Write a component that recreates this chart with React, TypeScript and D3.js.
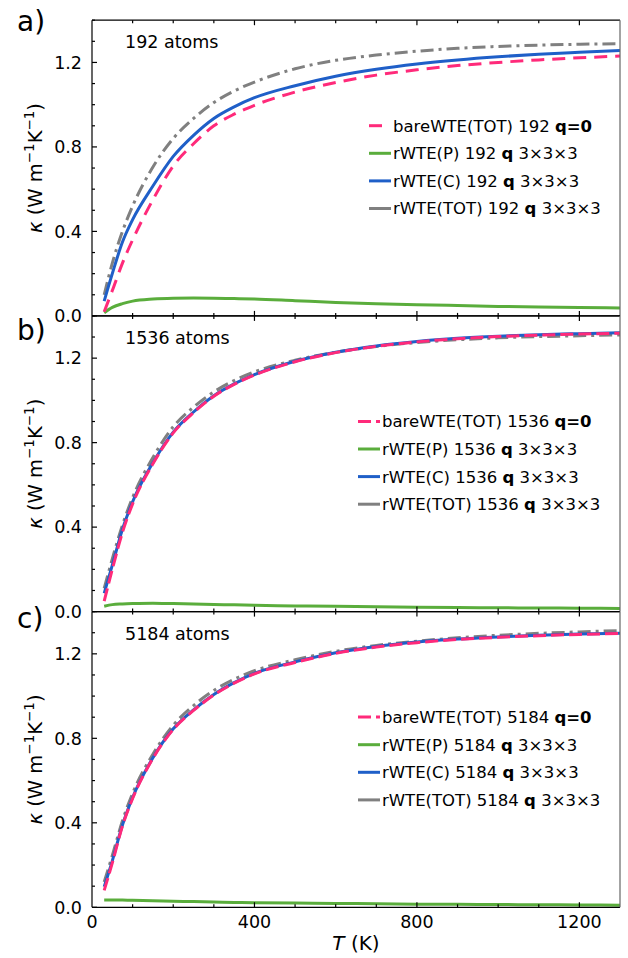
import React from "react";
import * as d3 from "d3";

// ---------- data ----------
const temps = [30, 50, 75, 100, 150, 200, 250, 300, 350, 400, 500, 600, 700, 800, 900, 1000, 1100, 1200, 1300];

// panel a (192 atoms)
const bareA = [0.02, 0.12, 0.25, 0.36, 0.55, 0.71, 0.815, 0.9, 0.955, 0.997, 1.06, 1.105, 1.14, 1.165, 1.185, 1.2, 1.212, 1.222, 1.23];
const pA = [0.015, 0.04, 0.058, 0.07, 0.08, 0.084, 0.085, 0.084, 0.082, 0.08, 0.072, 0.064, 0.058, 0.053, 0.049, 0.045, 0.042, 0.04, 0.037];
const cA = [0.07, 0.2, 0.35, 0.456, 0.615, 0.755, 0.855, 0.935, 0.99, 1.033, 1.09, 1.135, 1.168, 1.193, 1.212, 1.227, 1.239, 1.248, 1.256];
const totA = [0.1, 0.25, 0.4, 0.52, 0.705, 0.84, 0.935, 1.01, 1.065, 1.107, 1.17, 1.21, 1.235, 1.253, 1.267, 1.276, 1.282, 1.286, 1.289];

// panel b (1536 atoms)
const bareB = [0.05, 0.2, 0.375, 0.51, 0.7, 0.846, 0.942, 1.02, 1.076, 1.12, 1.183, 1.226, 1.256, 1.277, 1.292, 1.302, 1.309, 1.314, 1.318];
const pB = [0.025, 0.033, 0.036, 0.038, 0.04, 0.038, 0.036, 0.034, 0.032, 0.03, 0.027, 0.025, 0.023, 0.021, 0.019, 0.018, 0.017, 0.016, 0.015];
const cB = [0.087, 0.22, 0.39, 0.52, 0.705, 0.85, 0.945, 1.022, 1.078, 1.122, 1.185, 1.228, 1.258, 1.279, 1.294, 1.304, 1.311, 1.316, 1.32];
const totB = [0.11, 0.25, 0.41, 0.54, 0.73, 0.875, 0.968, 1.04, 1.094, 1.135, 1.19, 1.228, 1.255, 1.274, 1.287, 1.296, 1.302, 1.306, 1.31];

// panel c (5184 atoms)
const bareC = [0.08, 0.21, 0.385, 0.515, 0.705, 0.842, 0.932, 1.005, 1.061, 1.105, 1.159, 1.202, 1.232, 1.253, 1.268, 1.278, 1.286, 1.292, 1.296];
const pC = [0.035, 0.035, 0.034, 0.033, 0.031, 0.029, 0.027, 0.025, 0.023, 0.022, 0.02, 0.018, 0.017, 0.015, 0.014, 0.013, 0.012, 0.011, 0.01];
const cC = [0.097, 0.22, 0.39, 0.52, 0.708, 0.845, 0.935, 1.008, 1.064, 1.108, 1.162, 1.205, 1.235, 1.256, 1.27, 1.28, 1.288, 1.294, 1.298];
const totC = [0.12, 0.245, 0.41, 0.54, 0.725, 0.862, 0.955, 1.027, 1.08, 1.12, 1.172, 1.212, 1.24, 1.26, 1.276, 1.288, 1.297, 1.304, 1.31];

const atomCounts = ["192", "1536", "5184"];
const panelLetters = ["a)", "b)", "c)"];
const xTicks = [0, 400, 800, 1200];
const yTicks = [0, 0.4, 0.8, 1.2];

const seriesByPanel = [
  { bare: bareA, p: pA, c: cA, tot: totA },
  { bare: bareB, p: pB, c: cB, tot: totB },
  { bare: bareC, p: pC, c: cC, tot: totC },
];

// ---------- layout / style ----------
const W = 628;
const H = 958;
const LEFT = 92;
const RIGHT = 620;
const TOP0 = 20.2;
const PH = 295.7;
const FONT = "'DejaVu Sans', Verdana, sans-serif";
const PINK = "#ff2a7a";
const GREEN = "#5aad3c";
const BLUE = "#1f5fc8";
const GRAY = "#808080";
const LW = 3;
const legendTextX = [393, 382, 382];
const letterBaseline = [31, 340, 628];

const x = d3.scaleLinear().domain([0, 1300]).range([LEFT, RIGHT]);

function Panel({ idx }: { idx: number }) {
  const top = TOP0 + idx * PH;
  const bottom = top + PH;
  const y = d3.scaleLinear().domain([0, 1.4]).range([bottom, top]);
  const s = seriesByPanel[idx];
  const line = (vals: number[]) =>
    d3
      .line<number>()
      .x((_, i) => x(temps[i]))
      .y((v) => y(v))
      .curve(d3.curveMonotoneX)(vals) as string;

  const pinkDash = idx === 0 ? "13,8" : "13,5";
  const pinkLegendDash = idx === 0 ? "13,10" : "13,5";
  const grayDash = "13,5,3,5";

  const xMinor = d3.range(0, 1301, 100);
  const yMinor = d3.range(0, 1.41, 0.1);
  const clipId = `clip${idx}`;

  const legendRows = [
    { label: "bareWTE(TOT) ", color: PINK, dash: pinkLegendDash, q0: true },
    { label: "rWTE(P) ", color: GREEN, dash: "", q0: false },
    { label: "rWTE(C) ", color: BLUE, dash: "", q0: false },
    { label: "rWTE(TOT) ", color: GRAY, dash: "", q0: false },
  ];
  const tx = legendTextX[idx];

  return (
    <g>
      <defs>
        <clipPath id={clipId}>
          <rect x={LEFT} y={top} width={RIGHT - LEFT} height={PH + 2} />
        </clipPath>
      </defs>
      {/* curves */}
      <g clipPath={`url(#${clipId})`} fill="none" strokeWidth={LW}>
        <path d={line(s.p)} stroke={GREEN} />
        <path d={line(s.tot)} stroke={GRAY} strokeDasharray={grayDash} />
        <path d={line(s.c)} stroke={BLUE} />
        <path d={line(s.bare)} stroke={PINK} strokeDasharray={pinkDash} />
      </g>
      {/* spines */}
      <line x1={LEFT} x2={RIGHT} y1={top} y2={top} stroke="#000" strokeWidth={1.2} />
      <line x1={LEFT} x2={RIGHT} y1={bottom} y2={bottom} stroke="#000" strokeWidth={1.2} />
      <line x1={LEFT} x2={LEFT} y1={top} y2={bottom} stroke="#000" strokeWidth={1.2} />
      <line x1={RIGHT} x2={RIGHT} y1={top} y2={bottom} stroke="#666" strokeWidth={1.2} />
      {/* x ticks top & bottom */}
      {xMinor.map((t) => {
        const major = t % 400 === 0;
        const len = major ? 5 : 3;
        if (t === 0 || t === 1300) return null;
        return (
          <g key={"xt" + t} stroke="#000" strokeWidth={1.2}>
            <line x1={x(t)} x2={x(t)} y1={bottom} y2={bottom - len} />
            <line x1={x(t)} x2={x(t)} y1={top} y2={top + len} />
          </g>
        );
      })}
      {/* y ticks */}
      {yMinor.map((v, i) => {
        const major = i % 4 === 0;
        const len = major ? 5 : 3;
        return (
          <line
            key={"yt" + i}
            x1={LEFT}
            x2={LEFT + len}
            y1={y(v)}
            y2={y(v)}
            stroke="#000"
            strokeWidth={1.2}
          />
        );
      })}
      {yTicks.map((v) => (
        <text
          key={"yl" + v}
          x={LEFT - 10}
          y={y(v)}
          dy="0.36em"
          textAnchor="end"
          fontSize={17.5}
          fontFamily={FONT}
        >
          {v.toFixed(1)}
        </text>
      ))}
      {/* y label */}
      <text
        transform={`translate(42, ${(top + bottom) / 2}) rotate(-90)`}
        textAnchor="middle"
        fontSize={19.5}
        fontFamily={FONT}
      >
        <tspan fontStyle="italic">κ</tspan>
        <tspan> (W m</tspan>
        <tspan dy={-8} fontSize={13.5}>−1</tspan>
        <tspan dy={8}>K</tspan>
        <tspan dy={-8} fontSize={13.5}>−1</tspan>
        <tspan dy={8}>)</tspan>
      </text>
      {/* atoms label */}
      <text x={125} y={top + 28} fontSize={17.5} fontFamily={FONT}>
        {atomCounts[idx]} atoms
      </text>
      {/* panel letter */}
      <text x={17} y={letterBaseline[idx]} fontSize={28} fontFamily={FONT}>
        {panelLetters[idx]}
      </text>
      {/* legend */}
      {legendRows.map((r, i) => {
        const ly = top + 105.5 + i * 27.6;
        return (
          <g key={"lg" + i}>
            <line
              x1={tx - 24}
              x2={tx - 2}
              y1={ly}
              y2={ly}
              stroke={r.color}
              strokeWidth={LW}
              strokeDasharray={r.dash || undefined}
            />
            <text x={tx} y={ly} dy="0.36em" fontSize={16.5} fontFamily={FONT}>
              {r.label + atomCounts[idx] + " "}
              {r.q0 ? (
                <tspan fontWeight="bold">q=0</tspan>
              ) : (
                <>
                  <tspan fontWeight="bold">q</tspan>
                  <tspan> 3×3×3</tspan>
                </>
              )}
            </text>
          </g>
        );
      })}
      {/* x tick labels only on bottom panel */}
      {idx === 2 &&
        xTicks.map((t) => (
          <text
            key={"xl" + t}
            x={x(t)}
            y={bottom + 21}
            textAnchor="middle"
            fontSize={17.5}
            fontFamily={FONT}
          >
            {t}
          </text>
        ))}
    </g>
  );
}

export default function App() {
  return (
    <svg width={W} height={H} style={{ display: "block", position: "absolute", left: 0, top: 0 }}>
      <rect width={W} height={H} fill="#fff" />
      {[0, 1, 2].map((i) => (
        <Panel key={i} idx={i} />
      ))}
      <text x={x(650)} y={950} textAnchor="middle" fontSize={20} fontFamily={FONT}>
        <tspan fontStyle="italic">T</tspan>
        <tspan> (K)</tspan>
      </text>
    </svg>
  );
}
